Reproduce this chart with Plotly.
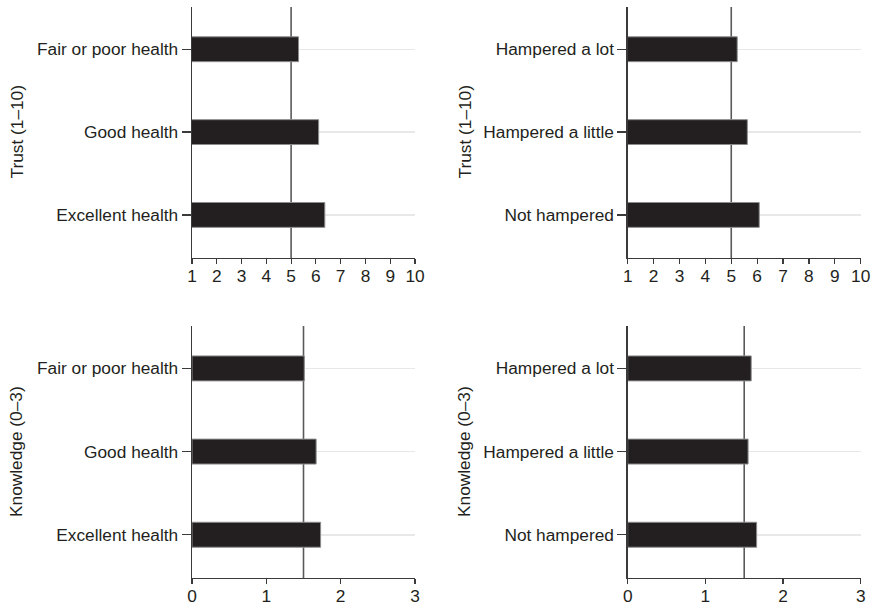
import plotly.graph_objects as go

health_cats = ["Fair or poor health", "Good health", "Excellent health"]
hamper_cats = ["Hampered a lot", "Hampered a little", "Not hampered"]

trust_health = [5.30, 6.11, 6.36]
trust_hamper = [5.23, 5.62, 6.08]
know_health = [1.51, 1.67, 1.73]
know_hamper = [1.59, 1.55, 1.66]

trust_ref = 5
know_ref = 1.5

trust_ticks = [1, 2, 3, 4, 5, 6, 7, 8, 9, 10]
know_ticks = [0, 1, 2, 3]

FONT = "Liberation Sans, Arial, sans-serif"
TXT = "#231f20"
W, H = 873, 605


def px_x(p):
    return p / W


def px_y(p):
    return max(0.0, min(1.0, 1 - p / H))


fig = go.Figure()

panels = [
    (trust_health, health_cats, "x", "y", trust_ref, [1, 10], trust_ticks, "Trust (1\u201310)",
     [px_x(192), px_x(415)], [px_y(258), px_y(7)], px_x(16)),
    (trust_hamper, hamper_cats, "x2", "y2", trust_ref, [1, 10], trust_ticks, "Trust (1\u201310)",
     [px_x(627.7), px_x(860.7)], [px_y(258), px_y(7)], px_x(464)),
    (know_health, health_cats, "x3", "y3", know_ref, [0, 3], know_ticks, "Knowledge (0\u20133)",
     [px_x(192), px_x(415)], [px_y(578), px_y(326)], px_x(16)),
    (know_hamper, hamper_cats, "x4", "y4", know_ref, [0, 3], know_ticks, "Knowledge (0\u20133)",
     [px_x(627.7), px_x(860.7)], [px_y(578), px_y(326)], px_x(464)),
]

layout_axes = {}
annotations = []
shapes = []
for vals, cats, xa, ya, ref, rng, ticks, title, xdom, ydom, tx in panels:
    fig.add_trace(go.Bar(
        x=vals, y=cats, orientation="h", xaxis=xa, yaxis=ya,
        width=0.30,
        marker=dict(color="#231f20", line=dict(color="#8c8c8c", width=1)),
        showlegend=False,
    ))
    xkey = "xaxis" + xa[1:]
    ykey = "yaxis" + ya[1:]
    layout_axes[xkey] = dict(
        domain=xdom, anchor=ya, range=rng, tickvals=ticks, automargin=False,
        showgrid=False, zeroline=False, showline=True,
        linecolor="#3a3a3a", linewidth=1.3,
        ticks="outside", ticklen=5, tickwidth=1.2, tickcolor="#3a3a3a",
        ticklabelstandoff=-3,
        tickfont=dict(family=FONT, size=17.3, color=TXT), fixedrange=True,
    )
    layout_axes[ykey] = dict(
        domain=ydom, anchor=xa, type="category", automargin=False,
        categoryorder="array", categoryarray=list(reversed(cats)),
        range=[-0.52, 2.51],
        showgrid=True, gridcolor="#e8e8e8", gridwidth=1.5,
        zeroline=False, showline=True,
        linecolor="#3a3a3a", linewidth=1.3,
        ticks="outside", ticklen=9, tickwidth=1.2, tickcolor="#3a3a3a",
        tickfont=dict(family=FONT, size=17.3, color=TXT), fixedrange=True,
    )
    shapes.append(dict(
        type="line", xref=xa, yref=ya + " domain",
        x0=ref, x1=ref, y0=0, y1=1, layer="below",
        line=dict(color="#5a5a5a", width=1.6),
    ))
    annotations.append(dict(
        text=title, xref="paper", yref="paper",
        x=tx, y=(ydom[0] + ydom[1]) / 2,
        xanchor="center", yanchor="middle", textangle=-90,
        showarrow=False, font=dict(family=FONT, size=17.3, color=TXT),
    ))

fig.update_layout(
    template="none",
    width=W, height=H,
    margin=dict(l=0, r=0, t=0, b=0, pad=0),
    paper_bgcolor="white", plot_bgcolor="white",
    showlegend=False, hovermode=False,
    shapes=shapes, annotations=annotations,
    **layout_axes,
)

fig.write_html(
    "out.html",
    config={"displayModeBar": False, "staticPlot": True},
    post_script="document.body.style.margin='0';document.body.style.overflow='hidden';",
)
